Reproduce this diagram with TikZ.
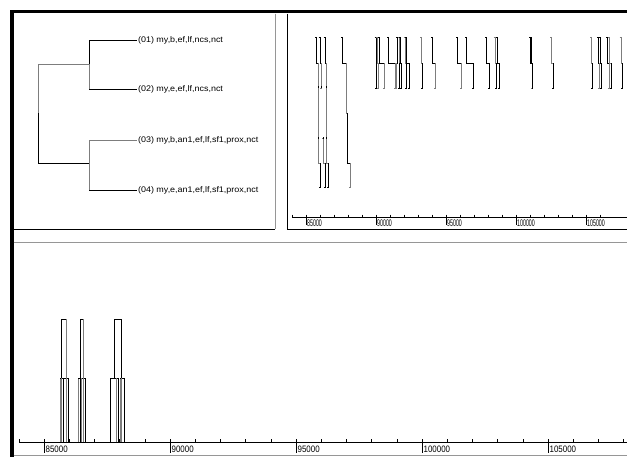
\documentclass[tikz,border=0pt]{standalone}
\usepackage{fontspec}
\setmainfont{Liberation Sans}
\usetikzlibrary{positioning}
\definecolor{trkgray}{RGB}{125,125,125}
\definecolor{edgegray}{RGB}{150,150,150}
\newcommand{\leaftxt}[1]{\scalebox{1.1}[1]{#1}}
\newcommand{\toptxt}[1]{\scalebox{0.55}[1]{#1}}
\newcommand{\bottxt}[1]{\scalebox{0.85}[1]{#1}}
\begin{document}
\begin{tikzpicture}[x=0.75pt,y=-0.75pt,line width=0.65pt,line cap=butt]
		\tikzset{leaf/.style={anchor=west,inner sep=0.5pt,font=\fontsize{6.1}{7}\selectfont},
			toplbl/.style={anchor=north west,inner sep=0pt,font=\fontsize{7.2}{8}\selectfont},
			botlbl/.style={anchor=north west,inner sep=0pt,font=\fontsize{7}{8}\selectfont}}
		\useasboundingbox[fill=white] (0,0) rectangle (627,457);
		% window frame and panels
		\draw[line width=2.5pt] (10,11.7) -- (627,11.7);
		\draw[line width=2.6pt] (12,10) -- (12,457);
		\draw[edgegray] (275,13.5) -- (275,229);
		\draw (13.5,229) -- (275,229);
		\draw (287.5,13.5) -- (287.5,229) -- (627,229);
		\draw[edgegray] (13.5,242) -- (627,242);
		\draw[edgegray] (13.5,455.5) -- (627,455.5);
		% dendrogram
		\node[leaf] (l1) at (137,40) {\leaftxt{(01) my,b,ef,lf,ncs,nct}};
		\node[leaf] (l2) at (137,89) {\leaftxt{(02) my,e,ef,lf,ncs,nct}};
		\node[leaf] (l3) at (137,140) {\leaftxt{(03) my,b,an1,ef,lf,sf1,prox,nct}};
		\node[leaf] (l4) at (137,190) {\leaftxt{(04) my,e,an1,ef,lf,sf1,prox,nct}};
		\coordinate (j12) at (89,64);
		\coordinate (j34) at (89,163);
		\coordinate (root) at (38,113);
		\draw (j12) |- (l1.west);
		\draw[trkgray] (j12) -- (j12 |- l2.west);
		\draw (j12 |- l2.west) -- (l2.west);
		\draw[trkgray] (j34) |- (l3.west);
		\draw[trkgray] (j34) -- (j34 |- l4.west);
		\draw (j34 |- l4.west) -- (l4.west);
		\draw[trkgray] (root) |- (j12);
		\draw (root) |- (j34);
		% upper map: long reads
		\draw (315.4,37.5) -- (316.7,37.5) -- (316.7,63.3) -- (318.3,63.3);
		\draw[trkgray] (318.3,63.3) -- (318.3,163) -- (320,163);
		\draw (320,163) -- (320,187.5) -- (318.7,187.5);
		\draw (318.7,37.5) -- (320,37.5) -- (320,63.3) -- (321.7,63.3);
		\draw[trkgray] (321.7,63.3) -- (321.7,88) -- (320.4,88);
		\draw (323.7,37.5) -- (325,37.5) -- (325,63.3) -- (326.7,63.3);
		\draw[trkgray] (326.7,63.3) -- (326.7,163) -- (328.3,163);
		\draw (328.3,163) -- (328.3,187.5) -- (327,187.5);
		\draw[trkgray] (322,138) -- (323.3,138) -- (323.3,163) -- (325,163);
		\draw (325,163) -- (325,187.5) -- (323.7,187.5);
		\draw (341.4,37.5) -- (342.7,37.5) -- (342.7,63.3) -- (346,63.3);
		\draw[trkgray] (346,63.3) -- (346,113) -- (347.7,113);
		\draw (347.7,113) -- (347.7,163) -- (350,163);
		\draw[trkgray] (350,163) -- (350,187.5) -- (348.7,187.5);
		\foreach \p in {(318.3,87),(321.7,87),(326.7,87),(318.3,138),(326.7,138),(347.7,138),(323.3,138)}
			\fill \p +(-0.5,-0.8) rectangle +(0.5,0.8);
		% upper map: short reads
		\foreach \t/\b/\ct/\cb in {376/376.7/black/black,377.5/378.5/trkgray/trkgray,379.5/384/black/trkgray,
			388.3/395/black/trkgray,397.7/396.7/black/trkgray,399.3/399.3/trkgray/black,400.5/401/black/black,
			405/406.7/trkgray/black,406.7/409/black/black,421.7/422.7/trkgray/black,432.3/435.7/black/trkgray,
			457.3/461.7/black/trkgray,466.7/473.3/black/black,486.7/489.3/black/black,495/496/trkgray/black,
			497.3/499/black/black,530.6/532/black/trkgray,531.6/532.9/black/black,551.7/553.3/trkgray/black,
			591.7/592.7/trkgray/black,598.3/599.5/black/trkgray,600/601.5/black/black,607.7/609.3/black/trkgray,
			609.3/611.7/trkgray/black,621/622.3/trkgray/black}{
			\draw[\ct] (\t-1.3,37.5) -- (\t,37.5) -- (\t,63.3) -- (\b,63.3);
			\draw[\cb] (\b,63.3) -- (\b,88) -- (\b-1.3,88);
		}
		% upper map axis
		\draw (292,217.3) -- (627,217.3);
		\foreach \v in {84,...,106}
			\draw (306+14*\v-14*85,214.6) -- (306+14*\v-14*85,217.3);
		\foreach \v in {85,90,95,100,105}{
			\draw (306+14*\v-14*85,217.3) -- (306+14*\v-14*85,225);
			\node[toplbl] (ta\v) at (306.8+14*\v-14*85,219) {\toptxt{\v000}};
		}
		% lower map: depth bars
		\draw[trkgray] (60,442) -- (60,378);
		\draw (60,378) -- (68.7,378) -- (68.7,442);
		\draw[trkgray] (61.7,378) -- (61.7,442);
		\draw (63.4,378) -- (63.4,442);
		\draw (61,378) -- (61,319) -- (66,319);
		\draw[trkgray] (66,319) -- (66,442);
		\draw[trkgray] (78.3,442) -- (78.3,378);
		\draw (78.3,378) -- (85.7,378) -- (85.7,442);
		\draw (80,319) -- (80,442);
		\draw[trkgray] (81.7,378) -- (81.7,442);
		\draw (80,319) -- (83.3,319);
		\draw[trkgray] (83.3,319) -- (83.3,442);
		\draw (110.3,442) -- (110.3,378) -- (118.3,378) -- (118.3,442);
		\draw[trkgray] (116.7,378) -- (116.7,442);
		\draw (114.3,378) -- (114.3,319) -- (121.7,319) -- (121.7,378);
		\draw[trkgray] (120,378) -- (120,442);
		\draw (120,378) -- (124.7,378) -- (124.7,442);
		\draw[trkgray] (121.7,378) -- (121.7,442);
		% lower map axis
		\draw (19,442.3) -- (627,442.3);
		\foreach \v in {84,...,108}
			\draw (44.3+25.2*\v-25.2*85,439.3) -- (44.3+25.2*\v-25.2*85,442.3);
		\foreach \v in {85,90,95,100,105}{
			\draw (44.3+25.2*\v-25.2*85,442.3) -- (44.3+25.2*\v-25.2*85,452.5);
			\node[botlbl] (ba\v) at (45.2+25.2*\v-25.2*85,445.3) {\bottxt{\v000}};
		}
\end{tikzpicture}
\end{document}
